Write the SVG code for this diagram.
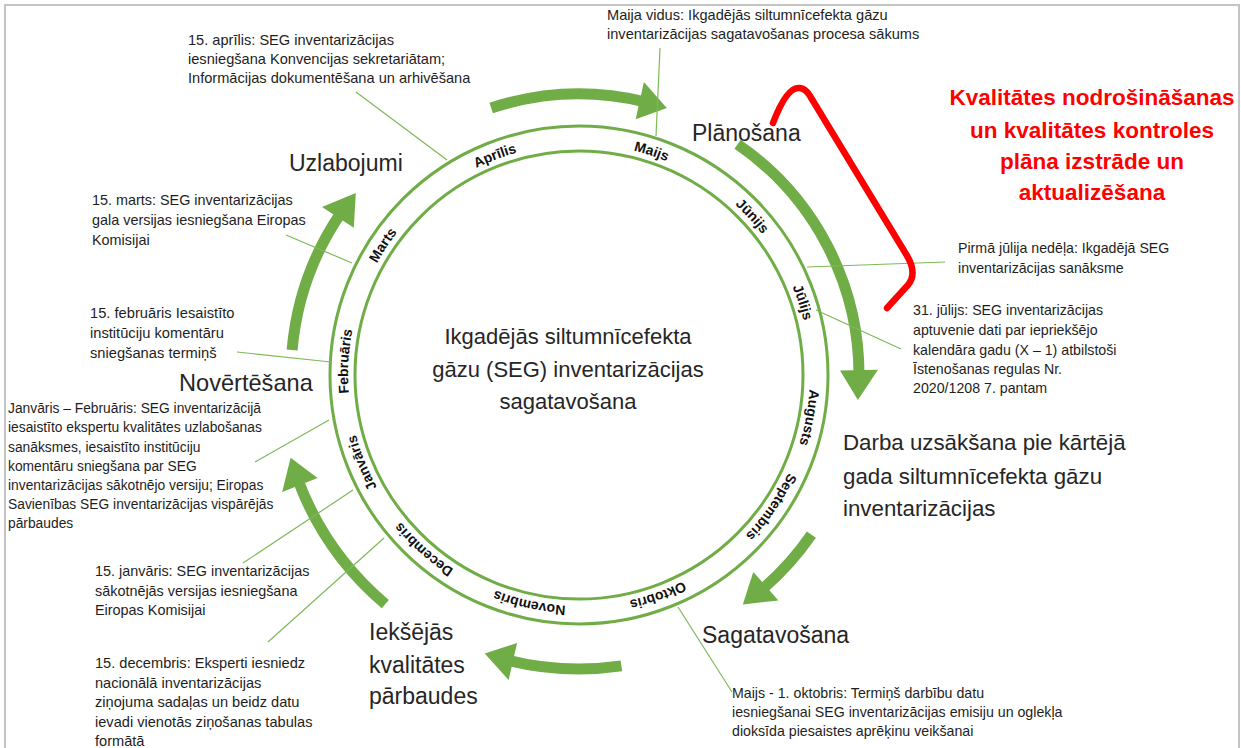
<svg xmlns="http://www.w3.org/2000/svg" width="1241" height="748" viewBox="0 0 1241 748">
  <style>
    .note { font-family: "Liberation Sans", Arial, sans-serif; font-size: 14.2px; fill: #1e1e1e; }
    .phase { font-family: "Liberation Sans", Arial, sans-serif; font-size: 23px; fill: #262626; }
    .core { font-family: "Liberation Sans", Arial, sans-serif; font-size: 22px; fill: #262626; text-anchor: middle; }
    .month { font-family: "Liberation Sans", Arial, sans-serif; font-size: 14px; font-weight: bold; fill: #111; text-anchor: middle; }
    .qa { font-family: "Liberation Sans", Arial, sans-serif; font-size: 22.5px; font-weight: bold; fill: #ff0000; text-anchor: middle; }
    .ring { fill: none; stroke: #70ad47; stroke-width: 3; }
    .leader { fill: none; stroke: #7dba58; stroke-width: 1.2; }
    .shaft { fill: none; stroke: #70ad47; stroke-width: 11; }
    .head { fill: #70ad47; }
  </style>
  <defs>
    <!-- clockwise circle starting at 12 o'clock, used as baseline for month names -->
    <path id="monthPath" d="M 579 144 A 231 231 0 1 1 579 606 A 231 231 0 1 1 579 144"/>
  </defs>

  <rect x="0" y="0" width="1241" height="748" fill="#ffffff"/>
  <!-- page frame -->
  <path d="M 5 760 L 5 5 L 1239 5 L 1239 760" fill="none" stroke="#c4c4c4" stroke-width="2"/>

  <!-- calendar ring -->
  <g id="ring">
    <circle class="ring" cx="579" cy="375" r="249"/>
    <circle class="ring" cx="579" cy="375" r="224"/>
  </g>

  <g id="months">
    <text class="month"><textPath href="#monthPath" startOffset="94.17%">Aprīlis</textPath></text>
    <text class="month"><textPath href="#monthPath" startOffset="5%">Maijs</textPath></text>
    <text class="month"><textPath href="#monthPath" startOffset="13.19%">Jūnijs</textPath></text>
    <text class="month"><textPath href="#monthPath" startOffset="20%">Jūlijs</textPath></text>
    <text class="month"><textPath href="#monthPath" startOffset="27.92%">Augusts</textPath></text>
    <text class="month"><textPath href="#monthPath" startOffset="34.58%">Septembris</textPath></text>
    <text class="month"><textPath href="#monthPath" startOffset="44.53%">Oktobris</textPath></text>
    <text class="month"><textPath href="#monthPath" startOffset="53.42%">Novembris</textPath></text>
    <text class="month"><textPath href="#monthPath" startOffset="61.58%">Decembris</textPath></text>
    <text class="month"><textPath href="#monthPath" startOffset="68.89%">Janvāris</textPath></text>
    <text class="month"><textPath href="#monthPath" startOffset="75.94%">Februāris</textPath></text>
    <text class="month"><textPath href="#monthPath" startOffset="84.31%">Marts</textPath></text>
  </g>

  <!-- connectors: cycle arrows and leader lines -->
  <g id="connectors">
    <g id="cycle-arrows">
      <path class="shaft" d="M 491.2 108 A 281 281 0 0 1 644.6 101.8"/>
      <polygon class="head" points="643.9,82.1 666.8,108 635.7,119.2"/>
      <path class="shaft" d="M 737.6 144.3 A 280 280 0 0 1 859 375"/>
      <polygon class="head" points="840,370.4 857.9,399.9 878,369.8"/>
      <path class="shaft" d="M 811.4 534.7 A 282 282 0 0 1 762.1 589.4"/>
      <polygon class="head" points="753.3,572 742.8,604.6 778.4,600.4"/>
      <path class="shaft" d="M 621.4 665.9 A 294 294 0 0 1 507.9 660.3"/>
      <polygon class="head" points="517.1,643 484.7,653.5 508.6,680"/>
      <path class="shaft" d="M 385.3 604.1 A 300 300 0 0 1 298 480.1"/>
      <polygon class="head" points="317.6,478 290.6,457.7 282.2,491.9"/>
      <path class="shaft" d="M 292.1 349.9 A 288 288 0 0 1 340.8 213.1"/>
      <polygon class="head" points="353.8,227.8 355.8,193 322,207"/>
    </g>
    <g id="leaders">
      <line class="leader" x1="660" y1="48" x2="656" y2="136"/>
      <line class="leader" x1="356" y1="92" x2="447" y2="160"/>
      <line class="leader" x1="286" y1="235" x2="352" y2="263"/>
      <line class="leader" x1="237" y1="352" x2="331" y2="362"/>
      <line class="leader" x1="255" y1="462" x2="329" y2="420"/>
      <line class="leader" x1="243" y1="563" x2="353" y2="490"/>
      <line class="leader" x1="268" y1="642" x2="384" y2="538"/>
      <line class="leader" x1="678" y1="607" x2="732" y2="692"/>
      <line class="leader" x1="807" y1="267" x2="945" y2="262"/>
      <line class="leader" x1="816" y1="310" x2="901" y2="349"/>
    </g>
  </g>

  <!-- quality assurance brace -->
  <g id="qa-brace">
    <path d="M 773 123 Q 787 86 800 88 Q 806 89 810 96 L 906 254 Q 918 273 908 285 L 887 308" fill="none" stroke="#ff0000" stroke-width="6.5" stroke-linecap="round" stroke-linejoin="round"/>
  </g>
  <g id="qa-text">
    <text class="qa" x="1092" y="105">Kvalitātes nodrošināšanas</text>
    <text class="qa" x="1092" y="138">un kvalitātes kontroles</text>
    <text class="qa" x="1092" y="169">plāna izstrāde un</text>
    <text class="qa" x="1092" y="200">aktualizēšana</text>
  </g>

  <g id="center-title">
    <text class="core" x="568" y="344">Ikgadējās siltumnīcefekta</text>
    <text class="core" x="568" y="377">gāzu (SEG) inventarizācijas</text>
    <text class="core" x="568" y="409">sagatavošana</text>
  </g>

  <!-- cycle phases -->
  <g id="phase-planosana"><text class="phase" x="692" y="141">Plānošana</text></g>
  <g id="phase-darba-uzsaksana" style="font-size:22.3px">
    <text class="phase" x="843" y="450" style="font-size:22.3px">Darba uzsākšana pie kārtējā</text>
    <text class="phase" x="843" y="484" style="font-size:22.3px">gada siltumnīcefekta gāzu</text>
    <text class="phase" x="843" y="516" style="font-size:22.3px">inventarizācijas</text>
  </g>
  <g id="phase-sagatavosana"><text class="phase" x="702" y="643">Sagatavošana</text></g>
  <g id="phase-parbaudes">
    <text class="phase" x="369" y="640">Iekšējās</text>
    <text class="phase" x="369" y="673">kvalitātes</text>
    <text class="phase" x="369" y="704">pārbaudes</text>
  </g>
  <g id="phase-novertesana"><text class="phase" x="179" y="391" style="font-size:23.6px">Novērtēšana</text></g>
  <g id="phase-uzlabojumi"><text class="phase" x="289" y="171">Uzlabojumi</text></g>

  <!-- milestone notes -->
  <g id="note-maija-vidus" style="font-size:14.6px">
    <text class="note" x="607" y="20" style="font-size:14.6px">Maija vidus: Ikgadējās siltumnīcefekta gāzu</text>
    <text class="note" x="607" y="39" style="font-size:14.6px">inventarizācijas sagatavošanas procesa sākums</text>
  </g>
  <g id="note-aprilis">
    <text class="note" x="188" y="45" style="font-size:14.6px">15. aprīlis: SEG inventarizācijas</text>
    <text class="note" x="188" y="64" style="font-size:14.6px">iesniegšana Konvencijas sekretariātam;</text>
    <text class="note" x="188" y="83" style="font-size:14.6px">Informācijas dokumentēšana un arhivēšana</text>
  </g>
  <g id="note-marts">
    <text class="note" x="92" y="205" style="font-size:14.4px">15. marts: SEG inventarizācijas</text>
    <text class="note" x="92" y="225" style="font-size:14.4px">gala versijas iesniegšana Eiropas</text>
    <text class="note" x="92" y="245" style="font-size:14.4px">Komisijai</text>
  </g>
  <g id="note-julija-nedela">
    <text class="note" x="958" y="253">Pirmā jūlija nedēļa: Ikgadējā SEG</text>
    <text class="note" x="958" y="273">inventarizācijas sanāksme</text>
  </g>
  <g id="note-31-julijs">
    <text class="note" x="913" y="315">31. jūlijs: SEG inventarizācijas</text>
    <text class="note" x="913" y="335">aptuvenie dati par iepriekšējo</text>
    <text class="note" x="913" y="355">kalendāra gadu (X – 1) atbilstoši</text>
    <text class="note" x="913" y="374">Īstenošanas regulas Nr.</text>
    <text class="note" x="913" y="393">2020/1208 7. pantam</text>
  </g>
  <g id="note-februaris">
    <text class="note" x="90" y="318" style="font-size:14.7px">15. februāris Iesaistīto</text>
    <text class="note" x="90" y="338" style="font-size:14.7px">institūciju komentāru</text>
    <text class="note" x="90" y="358" style="font-size:14.7px">sniegšanas termiņš</text>
  </g>
  <g id="note-janvaris-februaris">
    <text class="note" x="8" y="413" style="font-size:13.8px">Janvāris – Februāris: SEG inventarizācijā</text>
    <text class="note" x="8" y="432" style="font-size:13.8px">iesaistīto ekspertu kvalitātes uzlabošanas</text>
    <text class="note" x="8" y="452" style="font-size:13.8px">sanāksmes, iesaistīto institūciju</text>
    <text class="note" x="8" y="471" style="font-size:13.8px">komentāru sniegšana par SEG</text>
    <text class="note" x="8" y="490" style="font-size:13.8px">inventarizācijas sākotnējo versiju; Eiropas</text>
    <text class="note" x="8" y="509" style="font-size:13.8px">Savienības SEG inventarizācijas vispārējās</text>
    <text class="note" x="8" y="528" style="font-size:13.8px">pārbaudes</text>
  </g>
  <g id="note-janvaris">
    <text class="note" x="95" y="576" style="font-size:14.4px">15. janvāris: SEG inventarizācijas</text>
    <text class="note" x="95" y="596" style="font-size:14.4px">sākotnējās versijas iesniegšana</text>
    <text class="note" x="95" y="615" style="font-size:14.4px">Eiropas Komisijai</text>
  </g>
  <g id="note-decembris">
    <text class="note" x="95" y="668" style="font-size:14.6px">15. decembris: Eksperti iesniedz</text>
    <text class="note" x="95" y="688" style="font-size:14.6px">nacionālā inventarizācijas</text>
    <text class="note" x="95" y="707" style="font-size:14.6px">ziņojuma sadaļas un beidz datu</text>
    <text class="note" x="95" y="727" style="font-size:14.6px">ievadi vienotās ziņošanas tabulas</text>
    <text class="note" x="95" y="746" style="font-size:14.6px">formātā</text>
  </g>
  <g id="note-oktobris">
    <text class="note" x="732" y="698">Maijs - 1. oktobris: Termiņš darbību datu</text>
    <text class="note" x="732" y="717">iesniegšanai SEG inventarizācijas emisiju un oglekļa</text>
    <text class="note" x="732" y="736">dioksīda piesaistes aprēķinu veikšanai</text>
  </g>
</svg>
